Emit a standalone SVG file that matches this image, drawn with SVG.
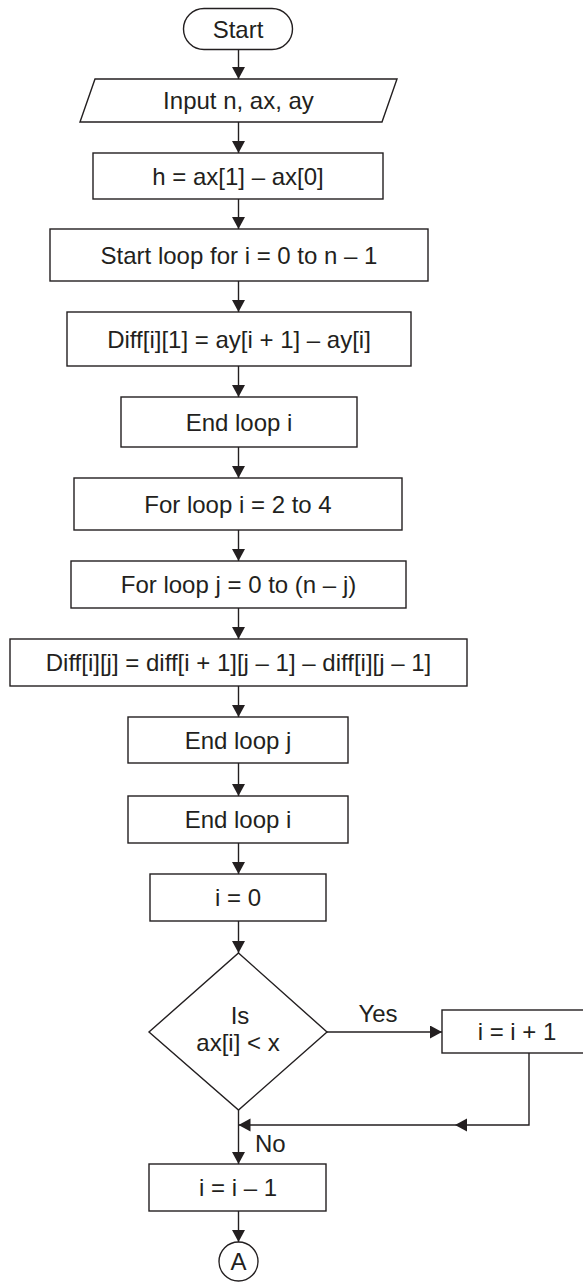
<svg xmlns="http://www.w3.org/2000/svg" width="583" height="1282" viewBox="0 0 583 1282">
<style>
.b{fill:#fff;stroke:#231f20;stroke-width:1.4}
.t{font-family:"Liberation Sans",Arial,sans-serif;font-size:24px;fill:#231f20;text-anchor:middle}
.c{fill:none;stroke:#231f20;stroke-width:1.4}
</style>
<defs>
<marker id="ah" markerUnits="userSpaceOnUse" markerWidth="13" markerHeight="14" refX="12" refY="6.5" orient="auto">
<path d="M0,0 L12,6.5 L0,13 z" fill="#231f20"/>
</marker>
</defs>
<rect width="583" height="1282" fill="#fff"/>
<g id="connectors">
<line class="c" x1="238.5" y1="50" x2="238.5" y2="79" marker-end="url(#ah)"/>
<line class="c" x1="238.5" y1="122" x2="238.5" y2="153" marker-end="url(#ah)"/>
<line class="c" x1="238.5" y1="199" x2="238.5" y2="229" marker-end="url(#ah)"/>
<line class="c" x1="238.5" y1="281" x2="238.5" y2="312" marker-end="url(#ah)"/>
<line class="c" x1="238.5" y1="366" x2="238.5" y2="397" marker-end="url(#ah)"/>
<line class="c" x1="238.5" y1="447" x2="238.5" y2="478" marker-end="url(#ah)"/>
<line class="c" x1="238.5" y1="530" x2="238.5" y2="561" marker-end="url(#ah)"/>
<line class="c" x1="238.5" y1="608" x2="238.5" y2="639" marker-end="url(#ah)"/>
<line class="c" x1="238.5" y1="686" x2="238.5" y2="717" marker-end="url(#ah)"/>
<line class="c" x1="238.5" y1="763" x2="238.5" y2="796" marker-end="url(#ah)"/>
<line class="c" x1="238.5" y1="843" x2="238.5" y2="874" marker-end="url(#ah)"/>
<line class="c" x1="238.5" y1="921" x2="238.5" y2="953" marker-end="url(#ah)"/>
<line class="c" x1="238.5" y1="1110" x2="238.5" y2="1164" marker-end="url(#ah)"/>
<line class="c" x1="238.5" y1="1211" x2="238.5" y2="1242" marker-end="url(#ah)"/>
<line class="c" x1="327" y1="1032" x2="442" y2="1032" marker-end="url(#ah)"/>
<polyline class="c" points="529,1053 529,1125 238.5,1125" marker-end="url(#ah)"/>
<path d="M455,1125 L467,1118.5 L467,1131.5 z" fill="#231f20"/>
<text class="t" x="378" y="1022">Yes</text>
<text class="t" x="255" y="1152" style="text-anchor:start">No</text>
</g>
<g id="start">
<rect class="b" x="183.5" y="8.5" width="109" height="41" rx="20.5"/>
<text class="t" x="238" y="37.5">Start</text>
</g>
<g id="input">
<polygon class="b" points="95,79 397,79 382,122 80,122"/>
<text class="t" x="238.5" y="109">Input n, ax, ay</text>
</g>
<g id="h">
<rect class="b" x="93" y="153" width="290" height="46"/>
<text class="t" x="238" y="184.5">h = ax[1] – ax[0]</text>
</g>
<g id="loop1">
<rect class="b" x="50" y="229" width="378" height="52"/>
<text class="t" x="239" y="263.5">Start loop for i = 0 to n – 1</text>
</g>
<g id="diff1">
<rect class="b" x="67" y="312" width="344" height="54"/>
<text class="t" x="239" y="347.5">Diff[i][1] = ay[i + 1] – ay[i]</text>
</g>
<g id="endi1">
<rect class="b" x="121" y="397" width="236" height="50"/>
<text class="t" x="239" y="430.5">End loop i</text>
</g>
<g id="fori">
<rect class="b" x="74" y="478" width="328" height="52"/>
<text class="t" x="238" y="512.5">For loop i = 2 to 4</text>
</g>
<g id="forj">
<rect class="b" x="71" y="561" width="335" height="47"/>
<text class="t" x="238.5" y="593">For loop j = 0 to (n – j)</text>
</g>
<g id="diffij">
<rect class="b" x="10" y="639" width="457" height="47"/>
<text class="t" x="238.5" y="671">Diff[i][j] = diff[i + 1][j – 1] – diff[i][j – 1]</text>
</g>
<g id="endj">
<rect class="b" x="128" y="717" width="220" height="46"/>
<text class="t" x="238" y="748.5">End loop j</text>
</g>
<g id="endi2">
<rect class="b" x="128" y="796" width="220" height="47"/>
<text class="t" x="238" y="828">End loop i</text>
</g>
<g id="i0">
<rect class="b" x="150" y="874" width="176" height="47"/>
<text class="t" x="238" y="906">i = 0</text>
</g>
<g id="decision">
<polygon class="b" points="238.5,953 327,1032 238.5,1110 149,1032"/>
<text class="t" x="240" y="1024">Is</text>
<text class="t" x="238" y="1051">ax[i] &lt; x</text>
</g>
<g id="inc">
<rect class="b" x="442" y="1010" width="150" height="43"/>
<text class="t" x="517" y="1040">i = i + 1</text>
</g>
<g id="dec">
<rect class="b" x="149" y="1164" width="177" height="47"/>
<text class="t" x="238" y="1196">i = i – 1</text>
</g>
<g id="connA">
<circle class="b" cx="238.5" cy="1261.5" r="19.5"/>
<text class="t" x="238.5" y="1270">A</text>
</g>
</svg>
